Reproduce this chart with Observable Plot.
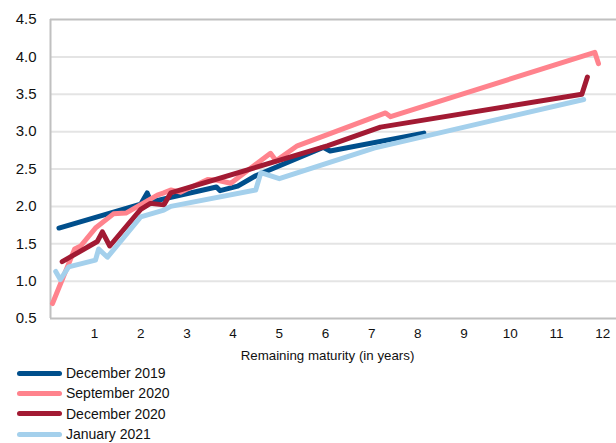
<!DOCTYPE html>
<html>
<head>
<meta charset="utf-8">
<script src="https://cdn.jsdelivr.net/npm/d3@7"></script>
<script src="https://cdn.jsdelivr.net/npm/@observablehq/plot@0.6"></script>
<style>
  body { margin: 0; background: #fff; font-family: "Liberation Sans", Arial, sans-serif; }
  #legend { margin-top: 0; }
  .row { display: flex; align-items: center; height: 20.3px; font-size: 14px; color: #111; }
  .sw { width: 45px; height: 5px; border-radius: 3px; margin-left: 17px; margin-right: 4px; }
</style>
</head>
<body>
<div id="chart"></div>
<div id="legend"></div>
<script>
const seriesNames = ["December 2019", "September 2020", "December 2020", "January 2021"];
const seriesColors = ["#004f8c", "#ff838d", "#a21a33", "#a4d0ec"];

const dec2019X = [0.23, 2.0, 2.14, 2.22, 3.64, 3.72, 4.1, 4.49, 5.95, 6.1, 8.13];
const dec2019Y = [1.71, 2.03, 2.18, 2.06, 2.26, 2.21, 2.27, 2.41, 2.79, 2.74, 2.98];

const sep2020X = [0.09, 0.57, 0.70, 1.02, 1.41, 1.68, 2.36, 2.5, 2.65, 2.86, 3.45, 3.66, 3.95, 4.53, 4.81, 4.93, 5.39, 7.3, 7.41, 11.83, 11.91];
const sep2020Y = [0.70, 1.43, 1.47, 1.71, 1.90, 1.91, 2.15, 2.18, 2.22, 2.19, 2.36, 2.35, 2.31, 2.58, 2.71, 2.61, 2.81, 3.25, 3.20, 4.06, 3.91];

const dec2020X = [0.3, 1.06, 1.17, 1.33, 2.0, 2.21, 2.5, 2.65, 6.04, 7.19, 11.55, 11.67];
const dec2020Y = [1.26, 1.53, 1.66, 1.47, 1.96, 2.04, 2.02, 2.18, 2.81, 3.06, 3.50, 3.73];

const jan2021X = [0.16, 0.26, 0.44, 1.02, 1.09, 1.28, 2.0, 2.5, 2.65, 4.49, 4.6, 5.0, 7.05, 11.59];
const jan2021Y = [1.13, 1.02, 1.19, 1.28, 1.43, 1.32, 1.86, 1.95, 2.0, 2.22, 2.45, 2.37, 2.78, 3.43];

const xTicks = [1, 2, 3, 4, 5, 6, 7, 8, 9, 10, 11, 12];
const yTicks = [0.5, 1.0, 1.5, 2.0, 2.5, 3.0, 3.5, 4.0, 4.5];
const xLabel = "Remaining maturity (in years)";

const allX = [dec2019X, sep2020X, dec2020X, jan2021X];
const allY = [dec2019Y, sep2020Y, dec2020Y, jan2021Y];
const data = [];
seriesNames.forEach((name, i) => {
  allX[i].forEach((x, j) => data.push({series: name, x, y: allY[i][j]}));
});

const xMin = 0.047, xMax = 12.3, yMin = 0.5, yMax = 4.5;

const chart = Plot.plot({
  width: 616,
  height: 363,
  marginLeft: 50,
  marginRight: 0,
  marginTop: 19,
  marginBottom: 45,
  style: {fontFamily: "Liberation Sans, Arial, sans-serif", color: "#111", background: "#fff"},
  x: {domain: [xMin, xMax]},
  y: {domain: [yMin, yMax]},
  color: {domain: seriesNames, range: seriesColors},
  marks: [
    Plot.ruleY(yTicks.filter(d => d > yMin && d < yMax), {stroke: "#e4e4e4", strokeWidth: 2}),
    Plot.ruleY([yMax], {stroke: "#c0c0c0", strokeWidth: 2}),
    Plot.ruleY([yMin], {stroke: "#c0c0c0", strokeWidth: 2}),
    Plot.ruleX([xMin], {stroke: "#c0c0c0", strokeWidth: 2}),
    Plot.axisY(yTicks, {tickSize: 0, tickPadding: 14, fontSize: 15, tickFormat: d3.format(".1f"), label: null}),
    Plot.axisX(xTicks, {tickSize: 0, tickPadding: 10, fontSize: 13.5, label: null}),
    Plot.line(data, {x: "x", y: "y", z: "series", stroke: "series", strokeWidth: 5, strokeLinecap: "round", strokeLinejoin: "round"}),
    Plot.text([xLabel], {frameAnchor: "bottom", dy: 41, dx: -6, fontSize: 13.3, fill: "#111"})
  ]
});
document.getElementById("chart").appendChild(chart);

const legend = document.getElementById("legend");
seriesNames.forEach((name, i) => {
  const row = document.createElement("div");
  row.className = "row";
  const sw = document.createElement("div");
  sw.className = "sw";
  sw.style.background = seriesColors[i];
  const label = document.createElement("span");
  label.textContent = name;
  row.appendChild(sw);
  row.appendChild(label);
  legend.appendChild(row);
});
</script>
</body>
</html>
